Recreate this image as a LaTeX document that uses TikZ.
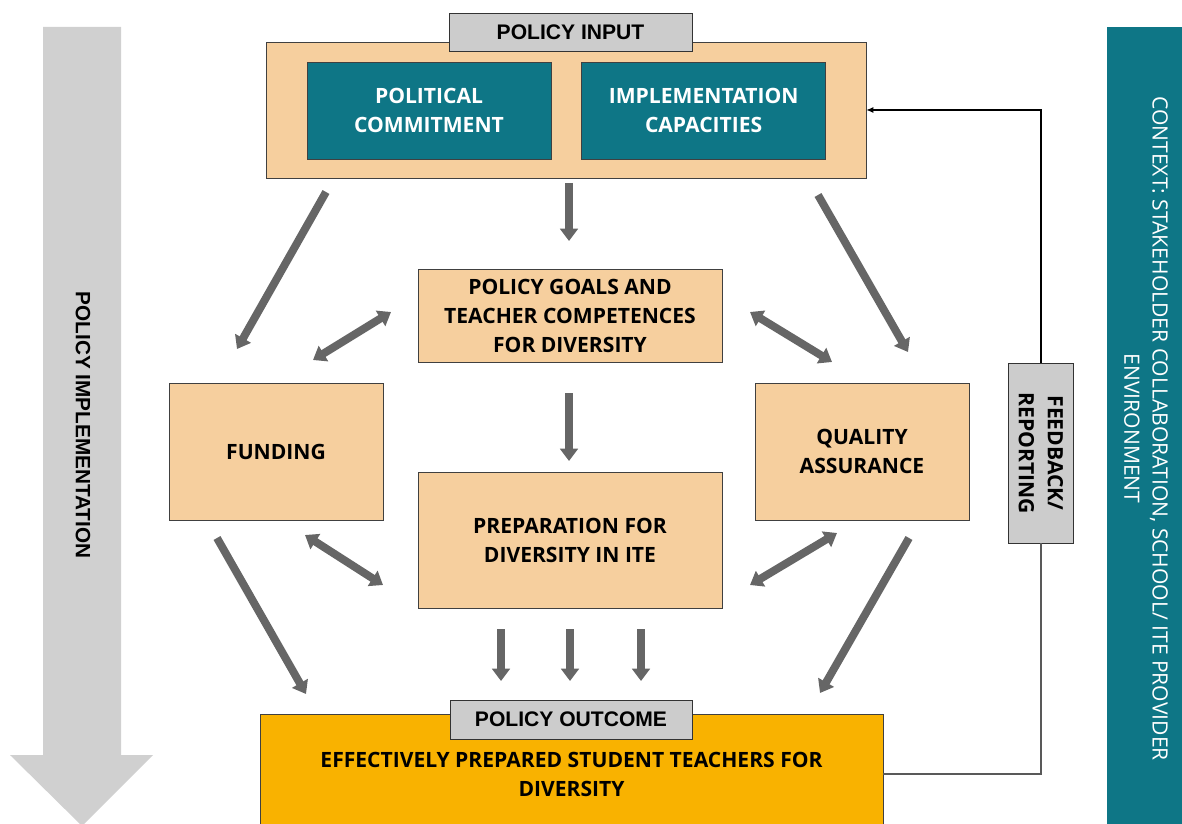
\documentclass[tikz,border=0pt]{standalone}
\usepackage{fontspec}
\setmainfont{Open Sans}
\newfontfamily\arialfont{Liberation Sans}
\usetikzlibrary{positioning, arrows.meta}

\definecolor{peach}{HTML}{F6CF9E}
\definecolor{petrol}{HTML}{0E7686}
\definecolor{amber}{HTML}{F9B200}
\definecolor{taggray}{HTML}{CCCCCC}
\definecolor{arrowgray}{HTML}{666666}
\definecolor{biggray}{HTML}{D0D0D0}

\begin{document}
\begin{tikzpicture}[
    x=0.02cm, y=-0.02cm,
    every node/.style={align=center, font=\bfseries\fontsize{12}{16.5}\selectfont},
    box/.style={draw=black!75, fill=peach, inner sep=0pt},
    tealbox/.style={box, fill=petrol, text=white, minimum width=4.88cm, minimum height=1.94cm},
    tag/.style={draw=black!80, fill=taggray, inner sep=0pt,
        font=\arialfont\bfseries\fontsize{12}{13}\selectfont},
    flow/.style={line width=4.5pt, arrowgray, -{Triangle[length=7pt, width=10pt]}},
    both/.style={flow, {Triangle[length=7pt, width=10pt]}-{Triangle[length=7pt, width=10pt]}},
    fbline/.style={draw=black!65, line width=0.7pt}
]
\useasboundingbox (0,0) rectangle (1182,824);

% policy implementation arrow
\fill[biggray] (43,27) -- (121,27) -- (121,755) -- (153,755) -- (82,826) -- (10,755) -- (43,755) -- cycle;
\node[rotate=-90, font=\arialfont\bfseries\fontsize{11.8}{13}\selectfont] (impl) at (83,425) {POLICY IMPLEMENTATION};

% context bar
\node[fill=petrol, text=white, rotate=-90, minimum width=16.06cm, minimum height=1.56cm,
      font=\fontsize{12}{16}\selectfont] (ctx) at (1146,428.5)
      {CONTEXT: STAKEHOLDER COLLABORATION, SCHOOL/ ITE PROVIDER\\ENVIRONMENT};

% nodes
\node[box, minimum width=12cm, minimum height=2.72cm] (inp) at (566,110) {};
\node[tealbox] (pol) at (429,110.5) {POLITICAL\\COMMITMENT};
\node[tealbox, right=0.6cm of pol] (imp) {IMPLEMENTATION\\CAPACITIES};
\node[tag, minimum width=4.86cm, minimum height=0.76cm] (intag) at (570.5,32) {POLICY INPUT};

\node[box, minimum width=6.08cm, minimum height=1.86cm] (goals) at (570,315.5)
    {POLICY GOALS AND\\TEACHER COMPETENCES\\FOR DIVERSITY};
\node[box, minimum width=4.28cm, minimum height=2.74cm] (fund) at (276,451.5) {FUNDING};
\node[box, minimum width=4.28cm, minimum height=2.74cm] (qa) at (862,451.5) {QUALITY\\ASSURANCE};
\node[box, minimum width=6.08cm, minimum height=2.72cm] (prep) at (570,540)
    {PREPARATION FOR\\DIVERSITY IN ITE};

\node[box, fill=amber, minimum width=12.46cm, minimum height=2.4cm] (out) at (571.5,774)
    {EFFECTIVELY PREPARED STUDENT TEACHERS FOR\\DIVERSITY};
\node[tag, minimum width=4.84cm, minimum height=0.78cm] (outtag) at (571,719.5) {POLICY OUTCOME};

\node[tag, rotate=-90, minimum width=3.6cm, minimum height=1.3cm,
      font=\bfseries\fontsize{12}{16.5}\selectfont] (fb) at (1041,453) {FEEDBACK/\\REPORTING};

% feedback loop
\draw[fbline] (out.east) -| (fb.east);
\draw[fbline, -{Latex[length=4pt, width=3.5pt]}, black] (fb.west) |- (inp.east);

% arrow ends
\coordinate (a1) at (326,192); \coordinate (b1) at (237,349);
\coordinate (a2) at (569,183); \coordinate (b2) at (569,241);
\coordinate (a3) at (818,195); \coordinate (b3) at (908,352);
\coordinate (a4) at (391,312); \coordinate (b4) at (313,360);
\coordinate (a5) at (750,312); \coordinate (b5) at (832,362);
\coordinate (a6) at (569,393); \coordinate (b6) at (569,461);
\coordinate (a7) at (305,535); \coordinate (b7) at (383,585);
\coordinate (a8) at (837,533); \coordinate (b8) at (750,585);
\coordinate (a9) at (217,538); \coordinate (b9) at (306,694);
\coordinate (a10) at (909,538); \coordinate (b10) at (820,693);

% arrows
\draw[flow] (a1) -- (b1);
\draw[flow] (a2) -- (b2);
\draw[flow] (a3) -- (b3);
\draw[both] (a4) -- (b4);
\draw[both] (a5) -- (b5);
\draw[flow] (a6) -- (b6);
\draw[both] (a7) -- (b7);
\draw[both] (a8) -- (b8);
\draw[flow] (a9) -- (b9);
\draw[flow] (a10) -- (b10);
\foreach \x [count=\i] in {501,570,641} {
    \coordinate (c\i) at (\x,629);
    \coordinate (d\i) at (\x,681);
    \draw[flow] (c\i) -- (d\i);
}

\end{tikzpicture}
\end{document}
